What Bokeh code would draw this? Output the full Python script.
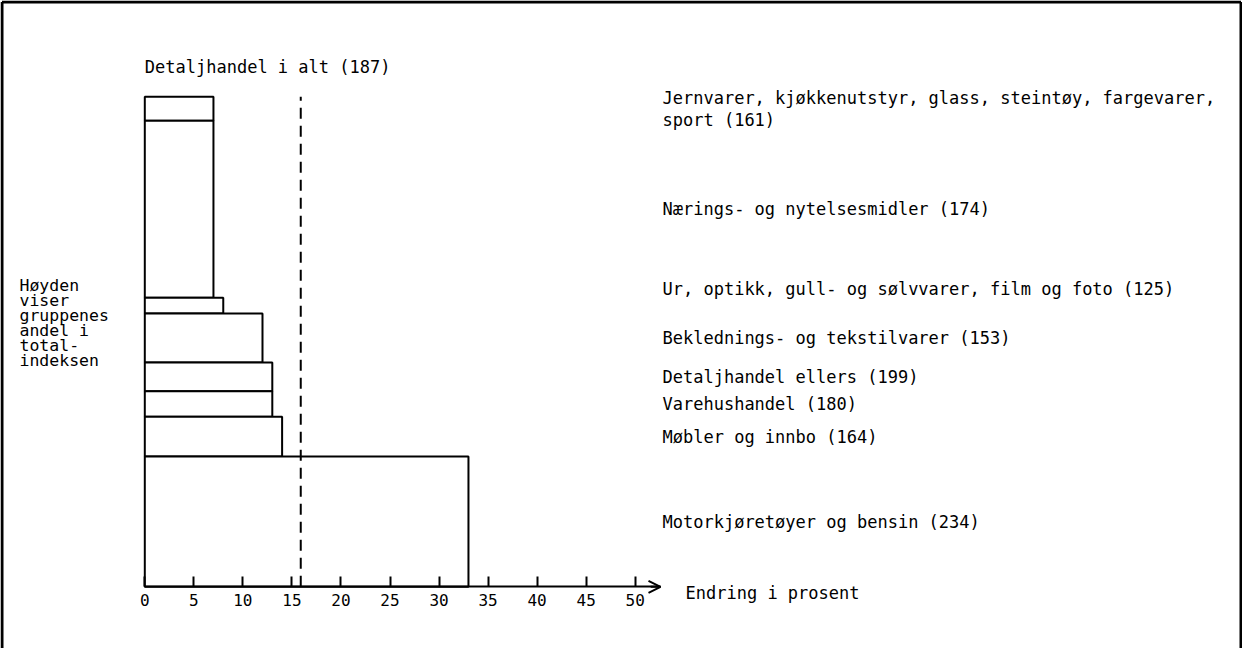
from bokeh.plotting import figure
from bokeh.models import Range1d, LinearAxis, FixedTicker, Arrow, OpenHead, ColumnDataSource
from bokeh.core.properties import value
from bokeh.embed import file_html
from bokeh.resources import INLINE

# ---------------- data (top to bottom) ----------------
categories = [
    "Jernvarer, kjøkkenutstyr, glass, steintøy, fargevarer,\nsport",
    "Nærings- og nytelsesmidler",
    "Ur, optikk, gull- og sølvvarer, film og foto",
    "Beklednings- og tekstilvarer",
    "Detaljhandel ellers",
    "Varehushandel",
    "Møbler og innbo",
    "Motorkjøretøyer og bensin",
]
index_values = [161, 174, 125, 153, 199, 180, 164, 234]
change_pct = [7, 7, 8, 12, 13, 13, 14, 33]          # bar length: Endring i prosent
weight_pct = [4.9, 36.1, 3.2, 10.0, 5.9, 5.2, 8.1, 26.6]  # bar height: share of total index
total_label = "Detaljhandel i alt"
total_index = 187
total_change = 15.9
x_ticks = [0, 5, 10, 15, 20, 25, 30, 35, 40, 45, 50]
note_lines = ["Høyden", "viser", "gruppenes", "andel i", "total-", "indeksen"]
axis_title = "Endring i prosent"

# ---------------- layout constants ----------------
W, H = 1242, 648
X_PX = 9.808      # px per percent on x
Y_PX = 4.9        # px per weight unit on y
X0_PX = 144.3     # x=0 position inside canvas
Y0_PX = 586.3     # y=0 position inside canvas (from top)
FONT = value("DejaVu Sans Mono")
label_shift_px = [0, 0, 17, 0, 0, 0, 0, 0]   # move label up (px)

x_start = -X0_PX / X_PX
x_end = x_start + W / X_PX
y_end = Y0_PX / Y_PX
y_start = y_end - H / Y_PX

# cumulative stacking (bottom is last category)
tops, bottoms = [0.0] * len(weight_pct), [0.0] * len(weight_pct)
acc = 0.0
for i in range(len(weight_pct) - 1, -1, -1):
    bottoms[i] = acc
    acc += weight_pct[i]
    tops[i] = acc
total_weight = acc

labels = [f"{c} ({v})" for c, v in zip(categories, index_values)]
centers = [(t + b) / 2 + s / Y_PX for t, b, s in zip(tops, bottoms, label_shift_px)]

src = ColumnDataSource(dict(left=[0] * len(change_pct), right=change_pct,
                            bottom=bottoms, top=tops, label=labels, yc=centers))

p = figure(width=W, height=H, x_range=Range1d(x_start, x_end), y_range=Range1d(y_start, y_end),
           x_axis_type=None, y_axis_type=None, min_border=0, toolbar_location=None,
           output_backend="svg", outline_line_color=None)
p.background_fill_color = "white"
p.border_fill_color = "white"

# bars
p.quad(left="left", right="right", bottom="bottom", top="top", source=src,
       fill_color="white", line_color="black", line_width=2)

# dashed total line
p.segment(x0=[total_change], y0=[0], x1=[total_change], y1=[total_weight],
          line_color="black", line_width=2, line_dash="11 7")

# x axis at y=0
arrow_end = (668 - 8 - X0_PX) / X_PX
axis = LinearAxis(fixed_location=0, ticker=FixedTicker(ticks=x_ticks), bounds=(0, arrow_end))
axis.axis_line_width = 2
axis.axis_line_color = "black"
axis.major_tick_in = 10
axis.major_tick_out = 0
axis.major_tick_line_width = 2
axis.major_tick_line_color = "black"
axis.minor_tick_line_color = None
axis.major_label_standoff = 7
axis.major_label_text_font = "DejaVu Sans Mono"
axis.major_label_text_font_size = "16px"
axis.major_label_text_color = "black"
p.add_layout(axis, "below")
p.add_layout(Arrow(end=OpenHead(size=12, line_width=2, line_color="black"),
                   x_start=arrow_end - 1, y_start=0, x_end=arrow_end, y_end=0,
                   line_width=2, line_color="black"))

# category labels on the right
p.text(x=(670 - 8 - X0_PX) / X_PX, y="yc", text="label", source=src,
       text_font=FONT, text_font_size="17px", text_baseline="middle", text_align="left",
       text_color="black", text_line_height=1.12)

# total label above
p.text(x=[0], y=[total_weight + 30 / Y_PX], text=[f"{total_label} ({total_index})"],
       text_font=FONT, text_font_size="17px", text_baseline="middle", text_align="left",
       text_color="black")

# axis title
p.text(x=[(693 - 8 - X0_PX) / X_PX], y=[-6 / Y_PX], text=[axis_title],
       text_font=FONT, text_font_size="17px", text_baseline="middle", text_align="left",
       text_color="black")

# left note
note_x = (27 - 8 - X0_PX) / X_PX
note_y = [(Y0_PX - (284.7 + 15 * k)) / Y_PX for k in range(len(note_lines))]
p.text(x=[note_x] * len(note_lines), y=note_y, text=note_lines,
       text_font=FONT, text_font_size="16.5px", text_baseline="middle", text_align="left",
       text_color="black")

# frame border (left, top, right)
bx = 1.5 / X_PX
by = 1.5 / Y_PX
p.segment(x0=[x_start + bx, x_start + bx, x_end - bx], y0=[y_start, y_end - by, y_start],
          x1=[x_start + bx, x_end - bx, x_end - bx], y1=[y_end - by, y_end - by, y_end - by],
          line_color="black", line_width=3)

open("out.html", "w").write(file_html(p, INLINE))
